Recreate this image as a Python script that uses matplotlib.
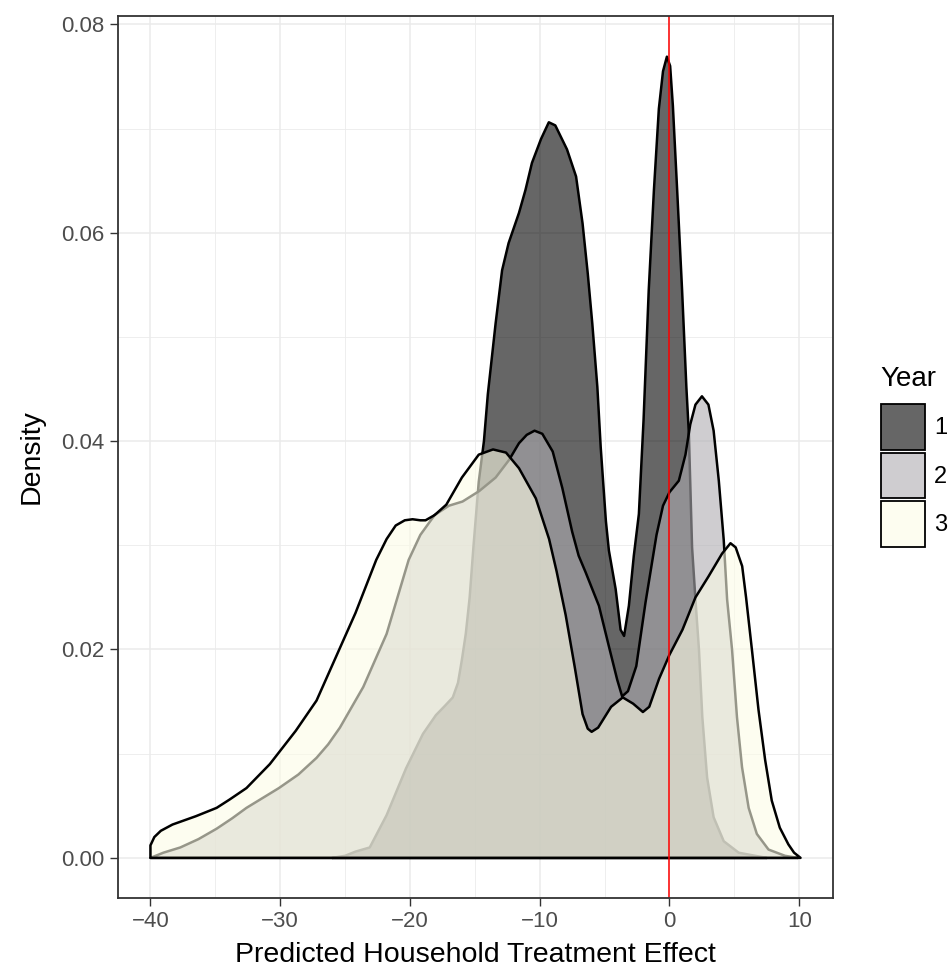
"""
Density of predicted household treatment effect by year (ggplot-like look).
"""

import matplotlib
matplotlib.use("Agg")
import matplotlib.pyplot as plt
from matplotlib.patches import Patch
from matplotlib.ticker import MultipleLocator, FormatStrFormatter

plt.rcParams['font.family'] = ['Liberation Sans', 'DejaVu Sans']

# ---------------------------------------------------------------------------
# Data (x = treatment effect, y = density)
# ---------------------------------------------------------------------------
years = ['1', '2', '3']

year1_x = [-26.0, -25.0, -24.2, -23.1, -21.8, -20.3, -19.0, -18.0, -17.3, -16.7,
           -16.3, -16.0, -15.7, -15.4, -15.1, -14.7, -14.3, -14.0, -13.4, -12.9,
           -12.4, -11.6, -11.1, -10.6, -9.9, -9.3, -8.8, -7.9, -7.2, -6.7,
           -6.3, -5.95, -5.56, -5.3, -4.9, -4.67, -4.15, -3.77, -3.5, -3.13,
           -2.75, -2.36, -2.0, -1.6, -1.2, -0.82, -0.5, -0.2, 0.05, 0.26,
           0.59, 0.97, 1.3, 1.49, 1.74, 2.0, 2.27, 2.53, 2.9, 3.4,
           4.18, 5.33, 6.6, 7.5]
year1_y = [0.0000, 0.0002, 0.0006, 0.0010, 0.0041, 0.0086, 0.0119, 0.0137, 0.0146, 0.0154,
           0.0168, 0.0190, 0.0215, 0.0250, 0.0300, 0.0361, 0.0400, 0.0445, 0.0513, 0.0564,
           0.0590, 0.0619, 0.0641, 0.0667, 0.0690, 0.0706, 0.0703, 0.0680, 0.0654, 0.0609,
           0.0561, 0.0513, 0.0452, 0.0394, 0.0323, 0.0295, 0.0258, 0.0219, 0.0213, 0.0242,
           0.0290, 0.0330, 0.0420, 0.0545, 0.0641, 0.0719, 0.0755, 0.0769, 0.0760, 0.0722,
           0.0641, 0.0545, 0.0452, 0.0408, 0.0298, 0.0248, 0.0200, 0.0135, 0.0077, 0.0039,
           0.0016, 0.0005, 0.0002, 0.0000]

year2_x = [-40.0, -39.0, -37.7, -36.3, -34.9, -33.7, -32.6, -30.1, -28.6, -27.2,
           -26.3, -25.4, -23.6, -21.8, -20.1, -19.2, -18.1, -17.0, -15.95, -14.67,
           -13.4, -12.36, -11.6, -11.0, -10.4, -9.8, -9.0, -8.26, -7.5, -7.0,
           -6.46, -5.44, -4.67, -4.03, -3.65, -3.2, -2.56, -1.85, -1.0, -0.5,
           0.0, 0.72, 1.23, 1.6, 2.0, 2.5, 3.0, 3.4, 3.8, 4.18,
           4.44, 4.82, 5.2, 5.59, 6.1, 6.73, 7.63, 8.9, 9.9]
year2_y = [0.0000, 0.0005, 0.0010, 0.0018, 0.0028, 0.0038, 0.0048, 0.0067, 0.0080, 0.0096,
           0.0109, 0.0125, 0.0164, 0.0215, 0.0286, 0.0310, 0.0329, 0.0338, 0.0342, 0.0352,
           0.0365, 0.0382, 0.0398, 0.0406, 0.0410, 0.0407, 0.0390, 0.0355, 0.0313, 0.0290,
           0.0274, 0.0242, 0.0203, 0.0171, 0.0155, 0.0160, 0.0184, 0.0245, 0.0310, 0.0338,
           0.0351, 0.0362, 0.0387, 0.0416, 0.0435, 0.0443, 0.0435, 0.0410, 0.0362, 0.0305,
           0.0248, 0.0200, 0.0135, 0.0087, 0.0048, 0.0023, 0.0008, 0.0002, 0.0000]

year3_x = [-40.0, -39.7, -39.2, -38.3, -36.5, -34.9, -33.9, -32.6, -30.8, -28.8,
           -27.2, -25.7, -24.2, -22.6, -21.8, -21.1, -20.4, -19.8, -19.2, -18.8,
           -18.1, -17.2, -16.0, -14.7, -13.6, -12.6, -11.6, -10.3, -9.28, -8.7,
           -8.0, -7.3, -6.7, -6.3, -6.0, -5.5, -4.5, -3.6, -2.8, -2.05,
           -1.56, -0.8, 0.0, 1.0, 2.0, 3.0, 4.05, 4.7, 5.1, 5.6,
           5.9, 6.35, 6.86, 7.37, 7.88, 8.5, 9.16, 9.6, 10.1]
year3_y = [0.0012, 0.0020, 0.0026, 0.0032, 0.0040, 0.0048, 0.0056, 0.0067, 0.0090, 0.0122,
           0.0151, 0.0193, 0.0235, 0.0286, 0.0306, 0.0319, 0.0324, 0.0325, 0.0324, 0.0324,
           0.0329, 0.0339, 0.0365, 0.0387, 0.0392, 0.0389, 0.0374, 0.0345, 0.0306, 0.0275,
           0.0233, 0.0183, 0.0138, 0.0124, 0.0121, 0.0125, 0.0145, 0.0154, 0.0148, 0.0140,
           0.0145, 0.0172, 0.0195, 0.0219, 0.0250, 0.0270, 0.0292, 0.0302, 0.0298, 0.0280,
           0.0250, 0.0200, 0.0142, 0.0094, 0.0055, 0.0029, 0.0013, 0.0005, 0.0000]

fill_colors = ['#000000', '#afadb2', '#fcfce6']
x_ticks = [-40, -30, -20, -10, 0, 10]
y_ticks = [0.00, 0.02, 0.04, 0.06, 0.08]

# ---------------------------------------------------------------------------
# Figure
# ---------------------------------------------------------------------------
fig = plt.figure(figsize=(9.52, 9.72), dpi=100)
ax = fig.add_axes([118 / 952, 1 - 898 / 972, (833 - 118) / 952, (898 - 16) / 972])

alpha = 0.6
curves = [(year1_x, year1_y), (year2_x, year2_y), (year3_x, year3_y)]
for i, (xs, ys) in enumerate(curves):
    # closed polygon down to the baseline, like geom_density
    px = list(xs) + [xs[-1], xs[0]]
    py = list(ys) + [0.0, 0.0]
    ax.fill(px, py, facecolor=matplotlib.colors.to_rgba(fill_colors[i], alpha),
            edgecolor='black', linewidth=1.8, joinstyle='round', zorder=2 + i)

ax.axvline(0, color='#ff0000', linewidth=1.1, zorder=6)

# axes limits (ggplot 5% expansion)
ax.set_xlim(-42.5, 12.6)
ax.set_ylim(-0.00385, 0.0808)

ax.set_xticks(x_ticks)
ax.set_yticks(y_ticks)
ax.xaxis.set_minor_locator(MultipleLocator(5))
ax.yaxis.set_minor_locator(MultipleLocator(0.01))
ax.yaxis.set_major_formatter(FormatStrFormatter('%.2f'))

ax.set_axisbelow(True)
ax.grid(which='major', color='#ebebeb', linewidth=1.1)
ax.grid(which='minor', color='#ebebeb', linewidth=0.6)

for sp in ax.spines.values():
    sp.set_color('#333333')
    sp.set_linewidth(1.3)
    sp.set_zorder(10)

ax.tick_params(which='major', length=5.5, width=1.0, color='#333333',
               labelsize=16, labelcolor='#4d4d4d', pad=4)
ax.tick_params(which='minor', length=0)

ax.set_xlabel('Predicted Household Treatment Effect', fontsize=20.5, labelpad=7)
ax.set_ylabel('Density', fontsize=20.5, labelpad=12)

# legend: title as separate text, square keys like ggplot
fig.text(880 / 952, 1 - 379 / 972, 'Year', fontsize=20, ha='left', va='center')
handles = [Patch(facecolor=matplotlib.colors.to_rgba(c, alpha), edgecolor='black',
                 linewidth=1.3) for c in fill_colors]
leg = fig.legend(handles, years, loc='upper left',
                 bbox_to_anchor=(881 / 952, 1 - 404 / 972), frameon=False,
                 fontsize=17, handlelength=1.85, handleheight=2.6,
                 labelspacing=0.12, handletextpad=0.4, borderpad=0,
                 borderaxespad=0)

fig.savefig('out.png', dpi=100)
